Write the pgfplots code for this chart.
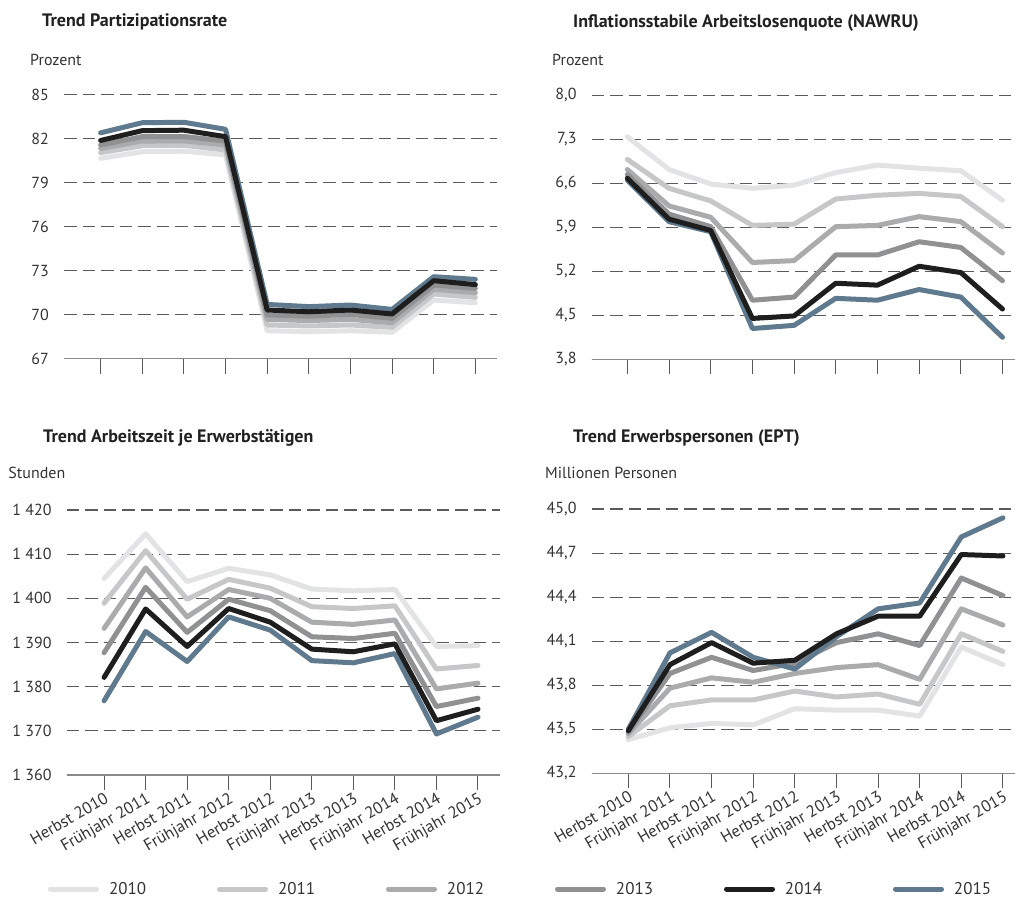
\documentclass[border=0pt]{standalone}
\usepackage{fontspec}
\setmainfont{PT Sans}
\usepackage{pgfplots}
\usepackage{pgfplotstable}
\pgfplotsset{compat=1.18}

\definecolor{c10}{HTML}{E2E3E5}
\definecolor{c11}{HTML}{C6C7C9}
\definecolor{c12}{HTML}{AAABAD}
\definecolor{c13}{HTML}{909193}
\definecolor{c14}{HTML}{1E1E1E}
\definecolor{c15}{HTML}{5F7A8E}
\definecolor{gridc}{HTML}{5A5A5A}
\definecolor{basec}{HTML}{8A8A8A}
\definecolor{txt}{HTML}{333333}

\pgfplotstableread{
x y10 y11 y12 y13 y14 y15
0 80.66 81.05 81.34 81.57 81.88 82.40
1 81.11 81.52 81.84 82.14 82.55 83.09
2 81.15 81.55 81.85 82.15 82.58 83.12
3 80.89 81.23 81.57 81.84 82.14 82.64
4 68.91 69.30 69.68 69.98 70.32 70.70
5 68.84 69.23 69.60 69.90 70.20 70.55
6 68.91 69.30 69.68 70.02 70.32 70.66
7 68.80 69.14 69.45 69.75 70.05 70.36
8 71.00 71.41 71.73 72.02 72.32 72.59
9 70.82 71.18 71.50 71.80 72.05 72.41
}\dataA

\pgfplotstableread{
x y10 y11 y12 y13 y14 y15
0 7.34 6.98 6.82 6.74 6.68 6.65
1 6.82 6.52 6.24 6.11 6.03 5.99
2 6.59 6.32 6.06 5.91 5.85 5.83
3 6.52 5.93 5.34 4.74 4.45 4.29
4 6.57 5.95 5.37 4.79 4.49 4.34
5 6.77 6.35 5.91 5.46 5.01 4.77
6 6.89 6.41 5.93 5.46 4.98 4.74
7 6.84 6.44 6.07 5.67 5.28 4.91
8 6.80 6.39 5.99 5.58 5.18 4.79
9 6.33 5.91 5.49 5.05 4.60 4.15
}\dataB

\pgfplotstableread{
x y10 y11 y12 y13 y14 y15
0 1404.5 1398.9 1393.2 1387.7 1382.1 1376.8
1 1414.6 1410.8 1406.9 1402.5 1397.6 1392.5
2 1403.8 1399.8 1395.8 1392.3 1389.1 1385.7
3 1406.8 1404.3 1402.0 1399.8 1397.7 1395.8
4 1405.3 1402.3 1400.0 1397.2 1394.6 1392.8
5 1402.1 1398.1 1394.6 1391.3 1388.5 1385.9
6 1401.7 1397.7 1394.1 1390.9 1387.9 1385.4
7 1402.0 1398.3 1395.1 1392.1 1389.7 1387.5
8 1389.1 1384.0 1379.5 1375.5 1372.3 1369.3
9 1389.3 1384.8 1380.8 1377.4 1374.9 1373.1
}\dataC

\pgfplotstableread{
x y10 y11 y12 y13 y14 y15
0 43.43 43.45 43.47 43.48 43.49 43.50
1 43.51 43.66 43.78 43.88 43.94 44.02
2 43.54 43.70 43.85 43.99 44.09 44.16
3 43.53 43.70 43.82 43.90 43.95 43.99
4 43.64 43.76 43.88 43.95 43.97 43.91
5 43.63 43.72 43.92 44.09 44.15 44.13
6 43.63 43.74 43.94 44.15 44.27 44.32
7 43.59 43.67 43.84 44.07 44.27 44.36
8 44.06 44.15 44.32 44.53 44.69 44.81
9 43.94 44.03 44.21 44.41 44.68 44.94
}\dataD

\pgfplotsset{
  panel/.style={
    scale only axis, clip=false,
    axis x line*=bottom, axis y line*=left,
    y axis line style={draw=none},
    x axis line style={draw=basec, line width=1.3pt},
    xtick={0,...,9},
    tick align=outside,
    major tick length=15pt,
    x tick style={draw=gridc, line width=1pt},
    y tick style={draw=none},
    ymajorgrids,
    major grid style={draw=gridc, line width=1.1pt, dash pattern=on 12.5pt off 6pt},
    /pgf/number format/assume math mode=true,
    tick label style={font=\fontsize{16}{18}\selectfont, text=txt},
    yticklabel style={anchor=east, inner sep=0pt},
    every axis plot/.append style={line width=5pt, line join=round, line cap=round, no marks},
  },
  datelabels/.style={
    xticklabels={Herbst 2010, Frühjahr 2011, Herbst 2011, Frühjahr 2012, Herbst 2012, Frühjahr 2013, Herbst 2013, Frühjahr 2014, Herbst 2014, Frühjahr 2015},
    xticklabel style={rotate=30, anchor=north east, inner sep=1pt, font=\fontsize{16.5}{18}\selectfont},
  },
}

\newcommand{\allseries}[1]{%
  \addplot[c10] table[x=x, y=y10] {#1};
  \addplot[c11] table[x=x, y=y11] {#1};
  \addplot[c12] table[x=x, y=y12] {#1};
  \addplot[c13] table[x=x, y=y13] {#1};
  \addplot[c15] table[x=x, y=y15] {#1};
  \addplot[c14] table[x=x, y=y14] {#1};
}

\begin{document}
\begin{tikzpicture}
\path[use as bounding box] (0pt,0pt) rectangle (1015pt,-902pt);

% Panel 1
\begin{axis}[panel, at={(64pt,-358.7pt)}, anchor=south west,
  width=433pt, height=264pt, xmin=-0.88, xmax=9.52, ymin=67, ymax=85,
  ytick={67,70,73,76,79,82,85},
  yticklabels={67,70,73,76,79,82,85}, xticklabels={}]
\allseries{\dataA}
\end{axis}

% Panel 2
\begin{axis}[panel, at={(591.7pt,-359.3pt)}, anchor=south west,
  width=423.3pt, height=264pt, xmin=-0.855, xmax=9.30, ymin=3.8, ymax=8.0,
  ytick={3.8,4.5,5.2,5.9,6.6,7.3,8.0},
  yticklabels={{3,8},{4,5},{5,2},{5,9},{6,6},{7,3},{8,0}}, xticklabels={}]
\allseries{\dataB}
\end{axis}

% Panel 3
\begin{axis}[panel, datelabels, at={(66.7pt,-775pt)}, anchor=south west,
  width=433.3pt, height=265pt, xmin=-0.9, xmax=9.53, ymin=1360, ymax=1420,
  ytick={1360,1370,1380,1390,1400,1410,1420},
  yticklabels={1 360,1 370,1 380,1 390,1 400,1 410,1 420}]
\allseries{\dataC}
\end{axis}

% Panel 4
\begin{axis}[panel, datelabels, at={(591.7pt,-773.3pt)}, anchor=south west,
  width=423.3pt, height=264.3pt, xmin=-0.88, xmax=9.29, ymin=43.2, ymax=45.0,
  ytick={43.2,43.5,43.8,44.1,44.4,44.7,45.0},
  yticklabels={{43,2},{43,5},{43,8},{44,1},{44,4},{44,7},{45,0}}]
\allseries{\dataD}
\end{axis}

% Legend
\begin{axis}[hide axis, scale only axis, width=10pt, height=10pt,
  at={(48pt,-889pt)}, anchor=south west, xmin=0, xmax=1, ymin=0, ymax=1,
  legend columns=6,
  legend image code/.code={\draw[#1, line width=5pt, line cap=round] (2.5pt,0pt) -- (48.5pt,0pt);},
  legend style={at={(0,0)}, anchor=west, draw=none, fill=none, inner sep=0pt, outer sep=0pt,
    font=\fontsize{17}{20}\selectfont, text=txt,
    nodes={inner sep=0pt, anchor=west},
    /tikz/every odd column/.style={column sep=10pt},
    /tikz/every even column/.style={column sep=0pt}}]
\addlegendimage{c10}\addlegendentry{\makebox[108pt][l]{2010}}
\addlegendimage{c11}\addlegendentry{\makebox[108pt][l]{2011}}
\addlegendimage{c12}\addlegendentry{\makebox[108pt][l]{2012}}
\addlegendimage{c13}\addlegendentry{\makebox[108pt][l]{2013}}
\addlegendimage{c14}\addlegendentry{\makebox[108pt][l]{2014}}
\addlegendimage{c15}\addlegendentry{\makebox[60pt][l]{2015}}
\end{axis}

% Titles and unit labels
\begin{scope}[every node/.style={inner sep=0pt, anchor=base west, text=black!87}]
\node[font=\fontsize{18}{20}\selectfont\bfseries] at (42pt,-26.7pt) {Trend Partizipationsrate};
\node[font=\fontsize{18}{20}\selectfont\bfseries] at (573pt,-27.3pt) {Inflationsstabile Arbeitslosenquote (NAWRU)};
\node[font=\fontsize{18}{20}\selectfont\bfseries] at (43pt,-442.3pt) {Trend Arbeitszeit je Erwerbstätigen};
\node[font=\fontsize{18}{20}\selectfont\bfseries] at (573pt,-442.3pt) {Trend Erwerbspersonen (EPT)};
\node[font=\fontsize{16}{18}\selectfont, text=txt] at (30pt,-65pt) {Prozent};
\node[font=\fontsize{16}{18}\selectfont, text=txt] at (552pt,-65pt) {Prozent};
\node[font=\fontsize{16}{18}\selectfont, text=txt] at (8.3pt,-478pt) {Stunden};
\node[font=\fontsize{16}{18}\selectfont, text=txt] at (545pt,-478pt) {Millionen Personen};
\end{scope}
\end{tikzpicture}
\end{document}
